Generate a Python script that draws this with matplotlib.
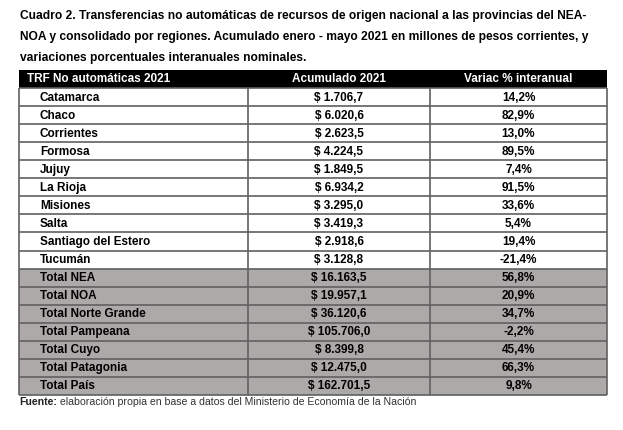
import matplotlib
matplotlib.use("Agg")
import matplotlib.pyplot as plt
from matplotlib.patches import Rectangle

title_lines = [
    "Cuadro 2. Transferencias no automáticas de recursos de origen nacional a las provincias del NEA-",
    "NOA y consolidado por regiones. Acumulado enero - mayo 2021 en millones de pesos corrientes, y",
    "variaciones porcentuales interanuales nominales.",
]
headers = ["TRF No automáticas 2021", "Acumulado 2021", "Variac % interanual"]
rows = ["Catamarca", "Chaco", "Corrientes", "Formosa", "Jujuy", "La Rioja", "Misiones",
        "Salta", "Santiago del Estero", "Tucumán", "Total NEA", "Total NOA",
        "Total Norte Grande", "Total Pampeana", "Total Cuyo", "Total Patagonia", "Total País"]
acumulado = ["$ 1.706,7", "$ 6.020,6", "$ 2.623,5", "$ 4.224,5", "$ 1.849,5", "$ 6.934,2",
             "$ 3.295,0", "$ 3.419,3", "$ 2.918,6", "$ 3.128,8", "$ 16.163,5", "$ 19.957,1",
             "$ 36.120,6", "$ 105.706,0", "$ 8.399,8", "$ 12.475,0", "$ 162.701,5"]
variacion = ["14,2%", "82,9%", "13,0%", "89,5%", "7,4%", "91,5%", "33,6%", "5,4%", "19,4%",
             "-21,4%", "56,8%", "20,9%", "34,7%", "-2,2%", "45,4%", "66,3%", "9,8%"]
is_total = [r.startswith("Total") for r in rows]
fuente_bold = "Fuente:"
fuente_rest = " elaboración propia en base a datos del Ministerio de Economía de la Nación"

FONT = "Liberation Sans"

W, H = 623, 430
fig = plt.figure(figsize=(W / 100, H / 100), dpi=100)
ax = fig.add_axes([0, 0, 1, 1])
ax.set_xlim(0, W)
ax.set_ylim(H, 0)
ax.axis("off")

fs_title = 8.65
fs = 8.45
tx = 19.5
for i, line in enumerate(title_lines):
    ax.text(tx, 16.5 + i * 20.5, line, fontsize=fs_title, fontweight="bold", family=FONT,
            ha="left", va="center", color="black")

x0, x1, x2, x3 = 19, 248, 430, 607
top = 70
rh = 18.05
# header
ax.add_patch(Rectangle((x0, top), x3 - x0, rh, facecolor="black", edgecolor="black", lw=0))
hy = top + rh / 2
ax.text(x0 + 8, hy, headers[0], color="white", fontsize=fs, fontweight="bold", family=FONT,
        ha="left", va="center")
ax.text((x1 + x2) / 2, hy, headers[1], color="white", fontsize=fs, fontweight="bold", family=FONT,
        ha="center", va="center")
ax.text((x2 + x3) / 2, hy, headers[2], color="white", fontsize=fs, fontweight="bold", family=FONT,
        ha="center", va="center")

lc = "#606060"
for i, (name, acc, var, tot) in enumerate(zip(rows, acumulado, variacion, is_total)):
    y = top + rh * (i + 1)
    fc = "#ADA9A8" if tot else "white"
    ax.add_patch(Rectangle((x0, y), x3 - x0, rh, facecolor=fc, edgecolor="none"))
    cy = y + rh / 2 + 0.5
    ax.text(x0 + 21, cy, name, fontsize=fs, fontweight="bold", family=FONT, ha="left", va="center")
    ax.text((x1 + x2) / 2, cy, acc, fontsize=fs, fontweight="bold", family=FONT, ha="center", va="center")
    ax.text((x2 + x3) / 2, cy, var, fontsize=fs, fontweight="bold", family=FONT, ha="center", va="center")

n = len(rows)
bottom = top + rh * (n + 1)
for i in range(1, n + 2):
    y = top + rh * i
    ax.plot([x0, x3], [y, y], color=lc, lw=1.2, solid_capstyle="butt")
for x in (x0, x1, x2, x3):
    ax.plot([x, x], [top + rh, bottom], color=lc, lw=1.2, solid_capstyle="butt")

fy = bottom + 7
fsf = 7.6
t = ax.text(x0, fy, fuente_bold, fontsize=fsf, fontweight="bold", family=FONT, ha="left",
            va="center", color="#222222")
fig.canvas.draw()
bb = t.get_window_extent()
inv = ax.transData.inverted()
xe = inv.transform((bb.x1, bb.y0))[0]
ax.text(xe, fy, fuente_rest, fontsize=fsf, family=FONT, ha="left", va="center", color="#333333")

fig.savefig("out.png", dpi=100)
